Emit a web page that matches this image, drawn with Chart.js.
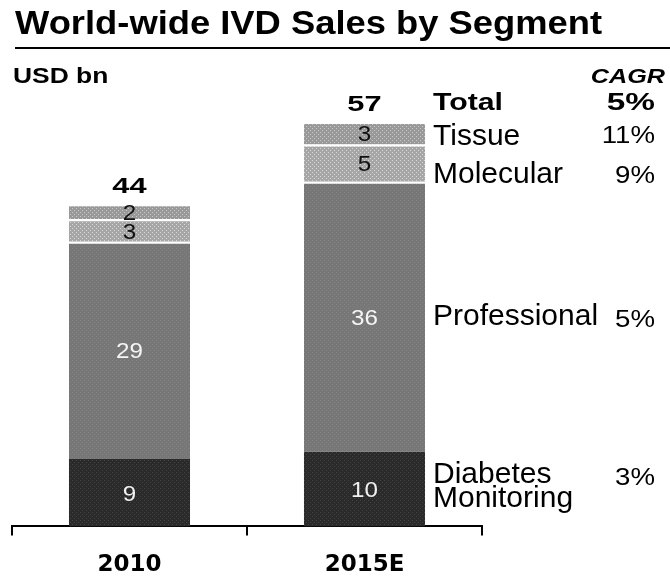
<!DOCTYPE html>
<html>
<head>
<meta charset="utf-8">
<script src="https://cdn.jsdelivr.net/npm/chart.js@4"></script>
<style>
  html, body { margin: 0; padding: 0; background: #fff; }
  #wrap { width: 670px; height: 583px; position: relative; }
</style>
</head>
<body>
<div id="wrap"><canvas id="graph"></canvas></div>
<script>
const years = ['2010', '2015E'];
const segmentNames = ['Diabetes\nMonitoring', 'Professional', 'Molecular', 'Tissue'];
const diabetes = [9, 10];
const professional = [29, 36];
const molecular = [3, 5];
const tissue = [2, 3];
const totals = [44, 57];
const segmentCagr = ['3%', '5%', '9%', '11%'];
const totalCagr = '5%';

const FONT = '"Liberation Sans", Arial, sans-serif';

// dotted screen fill, like the printed original
function dots(base, dot, step) {
  const c = document.createElement('canvas');
  c.width = step; c.height = step;
  const g = c.getContext('2d');
  g.fillStyle = base;
  g.fillRect(0, 0, step, step);
  g.fillStyle = dot;
  g.fillRect(0, 0, 1, 1);
  g.fillRect(step / 2, step / 2, 1, 1);
  return g.createPattern(c, 'repeat');
}

const ctx0 = document.getElementById('graph').getContext('2d');
const fills = [
  dots('#2a2a2a', '#454545', 4),
  dots('#777777', '#828282', 4),
  dots('#a6a6a6', '#d8d8d8', 4),
  dots('#999999', '#c8c8c8', 4)
];
const textColors = ['#f0f0f0', '#f4f4f4', '#111', '#111'];
// baseline offsets of the side labels / CAGR from the segment middle
const nameShift = [-6, 8, 20, 12];
const cagrShift = [-4, 10, 20, 10];

// text with a horizontal stretch, the original face is wide and heavy
function put(ctx, s, x, y, font, sx, align) {
  ctx.save();
  ctx.font = font;
  ctx.textAlign = align || 'left';
  ctx.translate(x, y);
  ctx.scale(sx, 1);
  ctx.fillText(s, 0, 0);
  ctx.restore();
}

const annotate = {
  id: 'annotate',
  afterDatasetsDraw(chart) {
    const ctx = chart.ctx;
    ctx.save();
    ctx.fillStyle = '#000';
    ctx.textBaseline = 'alphabetic';

    const title = 'World-wide IVD Sales by Segment';
    ctx.font = 'bold 33px ' + FONT;
    put(ctx, title, 15, 34, ctx.font, 587 / ctx.measureText(title).width);
    ctx.fillRect(15, 47, 655, 2);

    put(ctx, 'USD bn', 13, 83, 'bold 22px ' + FONT, 1.2);
    put(ctx, 'CAGR', 665, 83, 'italic bold 21px ' + FONT, 1.2, 'right');

    // numbers inside the segments
    ctx.textBaseline = 'middle';
    chart.data.datasets.forEach((ds, i) => {
      const meta = chart.getDatasetMeta(i);
      ctx.fillStyle = textColors[i];
      meta.data.forEach((bar, j) => {
        put(ctx, String(ds.data[j]), bar.x, (bar.y + bar.base) / 2 + 2, '22px ' + FONT, 1.1, 'center');
      });
    });

    // totals on top
    ctx.fillStyle = '#000';
    ctx.textBaseline = 'alphabetic';
    const top = chart.getDatasetMeta(chart.data.datasets.length - 1);
    top.data.forEach((bar, j) => {
      put(ctx, String(totals[j]), bar.x, bar.y - 11, 'bold 22px ' + FONT, 1.4, 'center');
    });

    // segment names and CAGR beside the last bar
    const lx = 433, rx = 655;
    const last = top.data[top.data.length - 1];
    put(ctx, 'Total', lx, last.y - 12, 'bold 24px ' + FONT, 1.26);
    put(ctx, totalCagr, rx, last.y - 12, 'bold 23px ' + FONT, 1.45, 'right');

    chart.data.datasets.forEach((ds, i) => {
      const bar = chart.getDatasetMeta(i).data[1];
      const cy = (bar.y + bar.base) / 2;
      const lines = segmentNames[i].split('\n');
      lines.forEach((ln, k) => {
        put(ctx, ln, lx, cy + nameShift[i] + k * 24, '30px ' + FONT, 1.0);
      });
      put(ctx, segmentCagr[i], rx, cy + cagrShift[i], '24px ' + FONT, 1.15, 'right');
    });
    ctx.restore();
  }
};

const seriesData = [diabetes, professional, molecular, tissue];

new Chart(ctx0, {
  type: 'bar',
  data: {
    labels: years,
    datasets: seriesData.map((d, i) => ({
      label: segmentNames[i],
      data: d,
      backgroundColor: fills[i],
      borderColor: '#ffffff',
      borderWidth: { top: i === 0 ? 0 : 2, bottom: 0, left: 0, right: 0 },
      borderSkipped: false,
      categoryPercentage: 1,
      barPercentage: 0.515
    }))
  },
  options: {
    responsive: true,
    maintainAspectRatio: false,
    animation: false,
    devicePixelRatio: 1,
    layout: { padding: { left: 12, right: 188, top: 77, bottom: -12 } },
    plugins: {
      legend: { display: false },
      tooltip: { enabled: false }
    },
    scales: {
      x: {
        stacked: true,
        offset: true,
        grid: {
          offset: true,
          drawOnChartArea: false,
          drawTicks: true,
          tickLength: 9,
          color: '#000',
          lineWidth: 2
        },
        border: { display: true, color: '#000', width: 2 },
        ticks: {
          color: '#000',
          padding: 16,
          maxRotation: 0,
          font: { family: '"DejaVu Sans", sans-serif', size: 23, weight: 'bold', lineHeight: 1.2 }
        }
      },
      y: {
        stacked: true,
        display: false,
        min: 0,
        max: 60
      }
    }
  },
  plugins: [annotate]
});
</script>
</body>
</html>
